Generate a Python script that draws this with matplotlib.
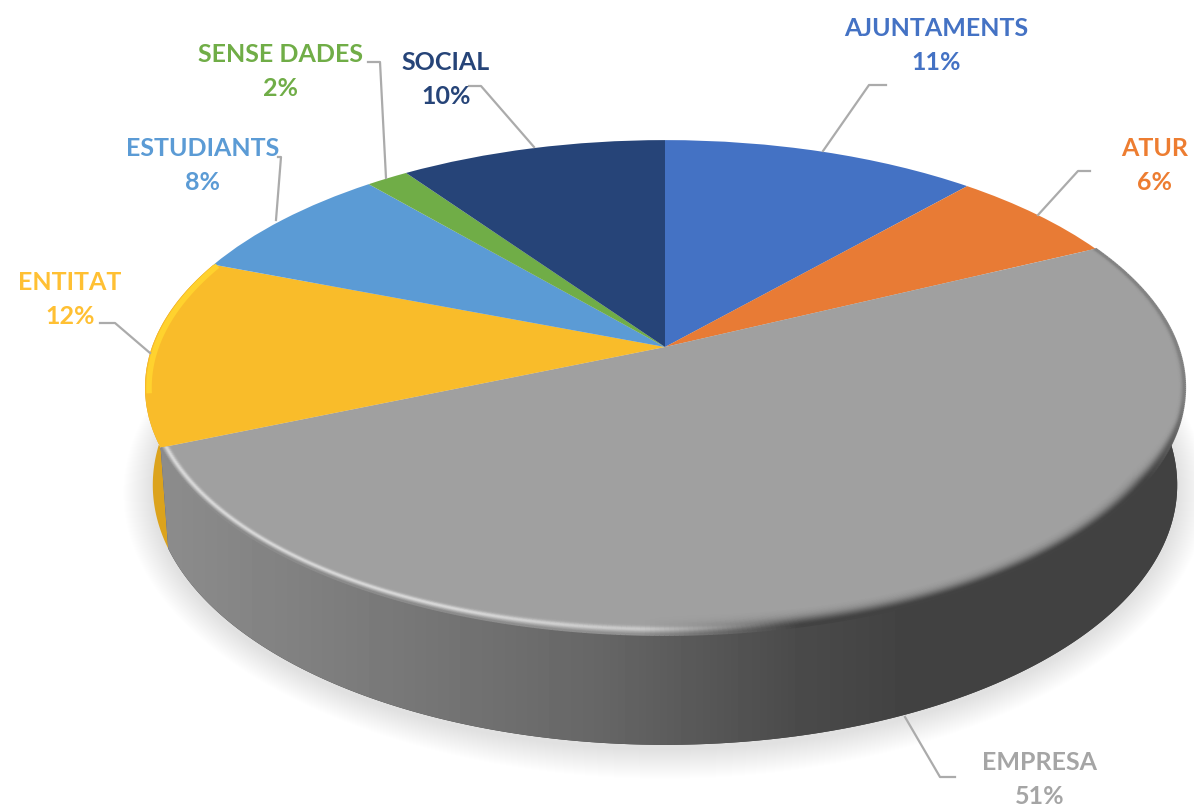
import numpy as np
import matplotlib
matplotlib.use('Agg')
import matplotlib.pyplot as plt
from matplotlib.collections import LineCollection
from matplotlib.patches import PathPatch
from matplotlib.path import Path
from matplotlib.transforms import Transform

labels = ['AJUNTAMENTS', 'ATUR', 'EMPRESA', 'ENTITAT', 'ESTUDIANTS', 'SENSE DADES', 'SOCIAL']
percents = ['11%', '6%', '51%', '12%', '8%', '2%', '10%']
# slice sizes as measured on the picture, the printed labels are rounded
values = [11.5, 6.3, 50.8, 12.3, 7.85, 1.55, 9.7]
colors = ['#4472C4', '#E87B35', '#A0A0A0', '#F9BC2A', '#5B9BD5', '#70AD47', '#264478']
text_colors = ['#4472C4', '#ED7D31', '#A5A5A5', '#FFC033', '#5B9BD5', '#70AD47', '#264478']

# label centres and leader lines, in pixels
label_pos = [(936, 29), (1155, 149), (1040, 762), (70, 282), (203, 149), (281, 55), (446, 63)]
leaders = [
    [(823, 151), (869, 85), (886, 85)],
    [(1038, 215), (1078, 171), (1090, 171)],
    [(905, 717), (940, 777), (955, 777)],
    [(150, 353), (115, 323), (100, 323)],
    [(276, 220), (281, 157), (278, 157)],
    [(386, 178), (380, 62), (368, 62)],
    [(534, 147), (481, 86), (469, 86)],
]

# perspective of the disc
CX, A, B, C, K, H = 665, 513, 316, 460, 0.1636, 807


def tilt(xy):
    xy = np.asarray(xy, dtype=float)
    x, y = xy[..., 0], xy[..., 1]
    w = 1 + K * y
    return np.stack([CX + A * x / w, H - (B * y + C) / w], axis=-1)


class Tilt(Transform):
    input_dims = 2
    output_dims = 2

    def transform_non_affine(self, xy):
        return tilt(xy)


def rim(theta):
    t = np.radians(theta)
    return tilt(np.stack([np.cos(t), np.sin(t)], axis=-1))


def low_rim(theta):
    t = np.radians(theta)
    p = rim(theta)
    depth = 95 - 15 * np.sin(t)
    return np.stack([CX + (p[:, 0] - CX) * 0.985, p[:, 1] + depth], axis=-1)


def inset(p, d):
    # move a rim curve d pixels towards the inside
    c = np.array([CX, 387])
    n = p - c
    n = n / np.linalg.norm(n, axis=1, keepdims=True)
    return p - n * d


def band(theta1, theta2):
    th = np.linspace(theta1, theta2, 300)
    return Path(np.vstack([rim(th), low_rim(th[::-1])]))


fig = plt.figure(figsize=(11.94, 8.07), dpi=100)
ax = fig.add_axes([0, 0, 1, 1])
wedges, _ = ax.pie(values, colors=colors, startangle=90, counterclock=False, radius=1)
ax.set_aspect('auto')

for w in wedges:
    w.set_transform(Tilt() + ax.transData)
    w.set_linewidth(0)
    w.set_zorder(3)

gray = wedges[2]
yellow = wedges[3]

# soft shadow
all_th = np.linspace(0, 360, 500)
for d in range(1, 31):
    p = inset(low_rim(all_th), -d) + np.array([0, 4])
    ax.fill(p[:, 0], p[:, 1], color='k', alpha=0.0055, lw=0, zorder=1)

# side of the disc
ax.add_patch(PathPatch(band(yellow.theta1, yellow.theta2), fc='#DCA31C', lw=0, zorder=2))
side = PathPatch(band(gray.theta1, gray.theta2), fc='#424242', lw=0, zorder=2)
ax.add_patch(side)
gx = np.arange(140, 1190)
gv = np.interp(gx, [160, 400, 600, 800, 900, 1190], [0.55, 0.47, 0.40, 0.29, 0.26, 0.26])
im = ax.imshow(gv[None, :], cmap='gray', vmin=0, vmax=1, aspect='auto',
               extent=(140, 1190, 760, 300), zorder=2.1)
im.set_clip_path(side)

# bevel on the edge of the grey slice
th = np.linspace(gray.theta1, gray.theta2, 400)
base = rim(th)
top = np.array(matplotlib.colors.to_rgb('#A0A0A0'))
dark = np.array(matplotlib.colors.to_rgb('#424242'))
light = np.array(matplotlib.colors.to_rgb('#DADADA'))
edge = np.array(matplotlib.colors.to_rgb('#8A8A8A'))
for d in np.arange(18, -0.5, -0.75):
    p = inset(base, d)
    wl = np.interp(p[:, 0], [160, 450, 650, 780], [1, 1, 0.7, 0])[:, None]
    wd = np.interp(p[:, 0], [640, 800, 1050, 1185], [0, 1, 1, 1])[:, None]
    wd = wd * np.interp(p[:, 1], [250, 400, 480], [0.3, 0.35, 1])[:, None]
    reach = np.interp(p[:, 1], [250, 420, 480], [2.0, 3.0, 9.0])[:, None]
    c = top + wl * np.exp(-((d - 5) / 2.6) ** 2) * (light - top)
    c = c + wl * np.exp(-d / 1.2) * (edge - top)
    c = c + wd * np.exp(-(d / reach) ** 2) * (dark - top)
    seg = np.stack([p[:-1], p[1:]], axis=1)
    ax.add_collection(LineCollection(seg, colors=np.clip((c[:-1] + c[1:]) / 2, 0, 1),
                                     linewidths=1.6, zorder=4))

# bright edge of the yellow slice
p = inset(rim(np.linspace(yellow.theta1, yellow.theta1 + 32, 60)), 4)
ax.plot(p[:, 0], p[:, 1], color='#FFD22E', lw=4, zorder=4, solid_capstyle='butt')

for pts in leaders:
    xs, ys = zip(*pts)
    ax.plot(xs, ys, color='#ABABAB', lw=1.6, zorder=5)

for name, pct, c, (x, y) in zip(labels, percents, text_colors, label_pos):
    for txt, yy in ((name, y), (pct, y + 34)):
        ax.text(x, yy, txt, color=c, ha='center', va='center', fontsize=18,
                fontweight='bold', family='Lato', zorder=6)

ax.set_xlim(0, 1194)
ax.set_ylim(807, 0)
ax.axis('off')

fig.savefig('out.png', dpi=100, facecolor='white')
